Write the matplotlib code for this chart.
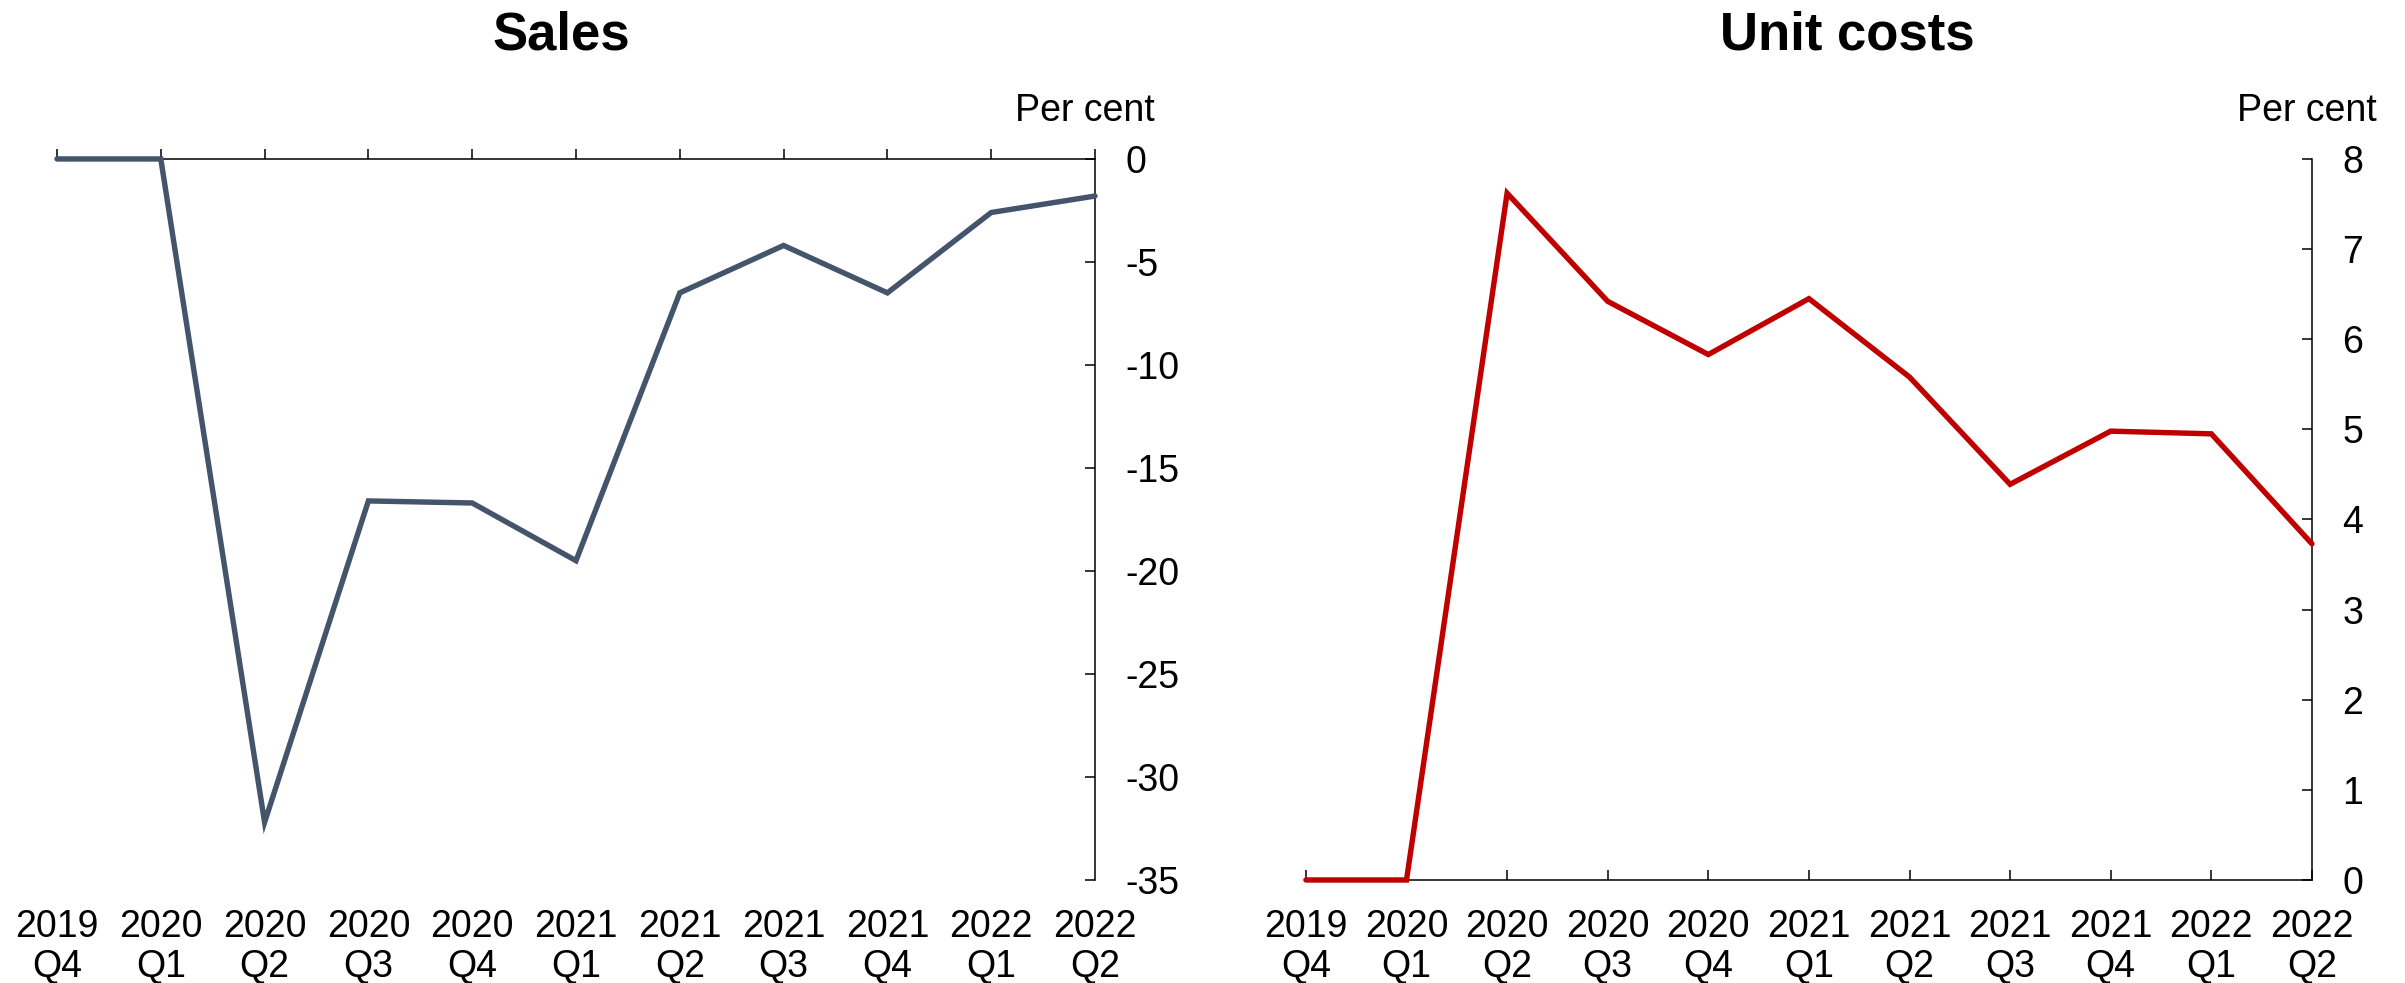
import matplotlib.pyplot as plt
import numpy as np

plt.rcParams['font.family'] = ['Liberation Sans', 'DejaVu Sans']
plt.rcParams['axes.unicode_minus'] = False

quarters = ['2019\nQ4', '2020\nQ1', '2020\nQ2', '2020\nQ3', '2020\nQ4', '2021\nQ1',
            '2021\nQ2', '2021\nQ3', '2021\nQ4', '2022\nQ1', '2022\nQ2']
sales = [0, 0, -32.2, -16.6, -16.7, -19.5, -6.5, -4.2, -6.5, -2.6, -1.8]
unit_costs = [0, 0, 7.62, 6.42, 5.83, 6.45, 5.58, 4.39, 4.98, 4.95, 3.73]

x = np.arange(len(quarters))

fig = plt.figure(figsize=(24.05, 9.83), dpi=100)
ax1 = fig.add_axes([0.0237, 0.1048, 0.4316, 0.7335])
ax2 = fig.add_axes([0.5430, 0.1048, 0.4183, 0.7335])

fs = 27

# left panel: sales, axis line at zero on top
ax1.plot(x, sales, color='#44546A', lw=3.9, solid_capstyle='round',
         solid_joinstyle='miter', clip_on=False, zorder=3)
ax1.set_xlim(0, 10)
ax1.set_ylim(-35, 0)
ax1.set_yticks(np.arange(-35, 1, 5))
for s in ['left', 'bottom']:
    ax1.spines[s].set_visible(False)
ax1.tick_params(axis='x', bottom=False, top=True, labelbottom=True, labeltop=False,
                direction='out', length=7.2, width=1.1, pad=14, labelsize=fs)
ax1.set_xticks(x)
ax1.set_xticklabels(quarters)
ax1.text(1.058, 1.053, 'Per cent', transform=ax1.transAxes, ha='right',
         va='baseline', fontsize=fs)

# right panel: unit costs
ax2.plot(x, unit_costs, color='#C00000', lw=3.9, solid_capstyle='round',
         solid_joinstyle='miter', clip_on=False, zorder=3)
ax2.set_xlim(0, 10)
ax2.set_ylim(0, 8)
ax2.set_yticks(np.arange(0, 9, 1))
for s in ['left', 'top']:
    ax2.spines[s].set_visible(False)
ax2.tick_params(axis='x', direction='in', length=7.2, width=1.1, pad=21.2, labelsize=fs)
ax2.set_xticks(x)
ax2.set_xticklabels(quarters)
ax2.text(1.064, 1.053, 'Per cent', transform=ax2.transAxes, ha='right',
         va='baseline', fontsize=fs)

for ax in (ax1, ax2):
    ax.yaxis.tick_right()
    ax.tick_params(axis='y', direction='in', length=7.2, width=1.1, pad=22, labelsize=fs)
    for sp in ax.spines.values():
        sp.set_linewidth(1.1)
    for lab in ax.get_xticklabels():
        lab.set_linespacing(1.12)

fig.text(561 / 2405, 1 - 49 / 983, 'Sales', ha='center', va='baseline',
         fontsize=38, fontweight='bold')
fig.text(1847 / 2405, 1 - 49 / 983, 'Unit costs', ha='center', va='baseline',
         fontsize=38, fontweight='bold')

fig.savefig('out.png', dpi=100)
